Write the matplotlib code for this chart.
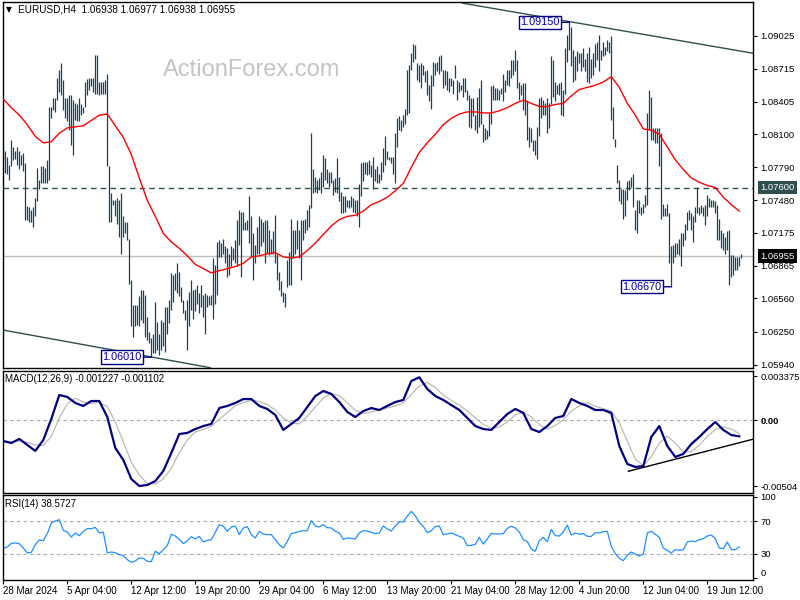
import numpy as np
import pandas as pd
import matplotlib
matplotlib.use("Agg")
import matplotlib.pyplot as plt
import matplotlib.transforms as mtrans

plt.rcParams['font.family'] = ['Liberation Sans', 'DejaVu Sans']

symbol = "EURUSD,H4"
last_ohlc = [1.06938, 1.06977, 1.06938, 1.06955]

# H4 bars (high / low)
highs = [
    1.0798, 1.0794, 1.0789, 1.0781, 1.0805, 1.0798, 1.0794, 1.0798, 1.0794, 1.0791,
    1.0792, 1.0783, 1.0743, 1.0742, 1.0739, 1.0742, 1.0750, 1.0778, 1.0767, 1.0780,
    1.0780, 1.0778, 1.0786, 1.0836, 1.0836, 1.0844, 1.0844, 1.0863, 1.0870, 1.0877,
    1.0861, 1.0844, 1.0844, 1.0847, 1.0847, 1.0842, 1.0839, 1.0838, 1.0844, 1.0838,
    1.0836, 1.0859, 1.0862, 1.0863, 1.0863, 1.0863, 1.0884, 1.0884, 1.0859, 1.0859,
    1.0859, 1.0861, 1.0867, 1.0780, 1.0755, 1.0748, 1.0748, 1.0750, 1.0748, 1.0755,
    1.0733, 1.0728, 1.0728, 1.0712, 1.0673, 1.0650, 1.0650, 1.0650, 1.0658, 1.0664,
    1.0664, 1.0659, 1.0639, 1.0625, 1.0619, 1.0623, 1.0653, 1.0634, 1.0623, 1.0636,
    1.0634, 1.0648, 1.0648, 1.0655, 1.0680, 1.0678, 1.0680, 1.0689, 1.0681, 1.0667,
    1.0655, 1.0645, 1.0655, 1.0662,
    1.0673, 1.0664, 1.0665, 1.0669, 1.0661, 1.0669, 1.0659, 1.0661, 1.0659, 1.0658,
    1.0659, 1.0694, 1.0687, 1.0709, 1.0711, 1.0708, 1.0712, 1.0705, 1.0703, 1.0698,
    1.0705, 1.0703, 1.0711, 1.0730, 1.0739, 1.0737, 1.0737, 1.0728, 1.0730, 1.0752,
    1.0733, 1.0717, 1.0706, 1.0723, 1.0733, 1.0731, 1.0728, 1.0730, 1.0730, 1.0720,
    1.0712, 1.0719, 1.0734, 1.0698, 1.0681, 1.0672, 1.0662, 1.0661, 1.0692, 1.0700,
    1.0731, 1.0720, 1.0720, 1.0730, 1.0720, 1.0730, 1.0730, 1.0731, 1.0739, 1.0744,
    1.0811, 1.0777, 1.0770, 1.0767, 1.0769, 1.0775, 1.0791, 1.0788, 1.0777, 1.0775,
    1.0775, 1.0767, 1.0769, 1.0788, 1.0770, 1.0756, 1.0752, 1.0752, 1.0748, 1.0748,
    1.0752, 1.0750, 1.0748, 1.0748, 1.0763, 1.0783, 1.0784, 1.0784, 1.0784, 1.0786,
    1.0781, 1.0789,
    1.0777, 1.0780, 1.0773, 1.0784, 1.0797, 1.0808, 1.0794, 1.0789, 1.0789, 1.0789,
    1.0811, 1.0825, 1.0827, 1.0823, 1.0828, 1.0834, 1.0870, 1.0875, 1.0886, 1.0895,
    1.0894, 1.0877, 1.0875, 1.0877, 1.0875, 1.0869, 1.0870, 1.0856, 1.0866, 1.0878,
    1.0877, 1.0878, 1.0883, 1.0884, 1.0870, 1.0870, 1.0869, 1.0863, 1.0863, 1.0861,
    1.0875, 1.0861, 1.0859, 1.0856, 1.0863, 1.0863, 1.0852, 1.0847, 1.0844, 1.0844,
    1.0828, 1.0845, 1.0853, 1.0861, 1.0820, 1.0816, 1.0814, 1.0830, 1.0855, 1.0856,
    1.0853, 1.0853, 1.0852, 1.0853, 1.0867, 1.0861, 1.0870, 1.0870, 1.0880, 1.0880,
    1.0889, 1.0880, 1.0859, 1.0856, 1.0858, 1.0858, 1.0842, 1.0817, 1.0816, 1.0805,
    1.0805, 1.0817, 1.0844, 1.0845, 1.0842, 1.0839, 1.0844, 1.0839, 1.0883, 1.0880,
    1.0859, 1.0856, 1.0858,
    1.0859, 1.0852, 1.0891, 1.0903, 1.0915, 1.0911, 1.0889, 1.0883, 1.0888, 1.0886,
    1.0886, 1.0891, 1.0881, 1.0886, 1.0892, 1.0881, 1.0886, 1.0895, 1.0897, 1.0903,
    1.0889, 1.0897, 1.0892, 1.0898, 1.0897, 1.0902, 1.0836, 1.0806, 1.0781, 1.0767,
    1.0759, 1.0759, 1.0758, 1.0766, 1.0767, 1.0770, 1.0773, 1.0739, 1.0748, 1.0748,
    1.0742, 1.0745, 1.0753, 1.0830, 1.0852, 1.0845, 1.0816, 1.0816, 1.0816, 1.0816,
    1.0811, 1.0745, 1.0741, 1.0745, 1.0736, 1.0705, 1.0706, 1.0708, 1.0708, 1.0712,
    1.0717, 1.0717, 1.0726, 1.0737, 1.0739, 1.0736, 1.0733, 1.0742, 1.0761, 1.0742,
    1.0744, 1.0742, 1.0744, 1.0753, 1.0750, 1.0748, 1.0748, 1.0747, 1.0744, 1.0731,
    1.0720, 1.0717, 1.0714, 1.0719, 1.0720, 1.0697, 1.0697, 1.0695, 1.0695, 1.0695,
    1.0698,
]
lows = [
    1.0783, 1.0774, 1.0773, 1.0767, 1.0780, 1.0786, 1.0787, 1.0781, 1.0777, 1.0781,
    1.0776, 1.0730, 1.0730, 1.0728, 1.0728, 1.0723, 1.0733, 1.0747, 1.0759, 1.0764,
    1.0764, 1.0764, 1.0764, 1.0767, 1.0825, 1.0833, 1.0831, 1.0842, 1.0850, 1.0847,
    1.0833, 1.0825, 1.0822, 1.0814, 1.0800, 1.0791, 1.0823, 1.0822, 1.0822, 1.0828,
    1.0830, 1.0836, 1.0847, 1.0852, 1.0855, 1.0850, 1.0848, 1.0848, 1.0847, 1.0848,
    1.0848, 1.0848, 1.0780, 1.0728, 1.0728, 1.0744, 1.0733, 1.0726, 1.0714, 1.0698,
    1.0714, 1.0717, 1.0711, 1.0670, 1.0630, 1.0620, 1.0630, 1.0631, 1.0630, 1.0636,
    1.0633, 1.0620, 1.0617, 1.0614, 1.0601, 1.0605, 1.0605, 1.0608, 1.0603, 1.0608,
    1.0611, 1.0606, 1.0623, 1.0633, 1.0645, 1.0653, 1.0664, 1.0661, 1.0658, 1.0653,
    1.0642, 1.0636, 1.0608, 1.0630,
    1.0645, 1.0637, 1.0644, 1.0651, 1.0642, 1.0648, 1.0639, 1.0623, 1.0648, 1.0650,
    1.0650, 1.0637, 1.0651, 1.0659, 1.0695, 1.0695, 1.0698, 1.0689, 1.0676, 1.0678,
    1.0686, 1.0692, 1.0689, 1.0686, 1.0706, 1.0676, 1.0720, 1.0720, 1.0720, 1.0708,
    1.0695, 1.0673, 1.0689, 1.0698, 1.0698, 1.0705, 1.0709, 1.0689, 1.0698, 1.0697,
    1.0698, 1.0698, 1.0689, 1.0673, 1.0664, 1.0658, 1.0653, 1.0648, 1.0667, 1.0669,
    1.0669, 1.0694, 1.0698, 1.0702, 1.0694, 1.0673, 1.0711, 1.0717, 1.0720, 1.0723,
    1.0741, 1.0755, 1.0756, 1.0755, 1.0758, 1.0755, 1.0761, 1.0767, 1.0764, 1.0761,
    1.0764, 1.0753, 1.0756, 1.0755, 1.0747, 1.0736, 1.0736, 1.0737, 1.0742, 1.0741,
    1.0742, 1.0737, 1.0736, 1.0733, 1.0723, 1.0752, 1.0766, 1.0773, 1.0772, 1.0773,
    1.0770, 1.0759,
    1.0766, 1.0764, 1.0764, 1.0767, 1.0775, 1.0781, 1.0787, 1.0786, 1.0783, 1.0773,
    1.0764, 1.0798, 1.0814, 1.0813, 1.0817, 1.0820, 1.0828, 1.0830, 1.0870, 1.0878,
    1.0881, 1.0861, 1.0859, 1.0853, 1.0866, 1.0859, 1.0847, 1.0841, 1.0834, 1.0855,
    1.0866, 1.0869, 1.0867, 1.0869, 1.0853, 1.0856, 1.0852, 1.0850, 1.0855, 1.0848,
    1.0863, 1.0842, 1.0850, 1.0852, 1.0845, 1.0850, 1.0842, 1.0817, 1.0816, 1.0827,
    1.0814, 1.0811, 1.0817, 1.0820, 1.0803, 1.0805, 1.0806, 1.0808, 1.0820, 1.0842,
    1.0842, 1.0842, 1.0842, 1.0848, 1.0841, 1.0850, 1.0856, 1.0855, 1.0863, 1.0866,
    1.0869, 1.0853, 1.0842, 1.0847, 1.0833, 1.0828, 1.0805, 1.0798, 1.0803, 1.0794,
    1.0791, 1.0787, 1.0808, 1.0825, 1.0828, 1.0828, 1.0811, 1.0816, 1.0838, 1.0845,
    1.0841, 1.0848, 1.0847,
    1.0828, 1.0827, 1.0848, 1.0878, 1.0889, 1.0874, 1.0859, 1.0861, 1.0869, 1.0877,
    1.0869, 1.0873, 1.0869, 1.0859, 1.0858, 1.0863, 1.0866, 1.0873, 1.0880, 1.0869,
    1.0880, 1.0883, 1.0884, 1.0888, 1.0886, 1.0823, 1.0806, 1.0798, 1.0764, 1.0747,
    1.0745, 1.0731, 1.0733, 1.0748, 1.0758, 1.0761, 1.0742, 1.0720, 1.0717, 1.0736,
    1.0734, 1.0736, 1.0742, 1.0744, 1.0814, 1.0805, 1.0805, 1.0802, 1.0802, 1.0780,
    1.0731, 1.0733, 1.0733, 1.0733, 1.0689, 1.0667, 1.0689, 1.0695, 1.0698, 1.0697,
    1.0686, 1.0705, 1.0711, 1.0720, 1.0730, 1.0720, 1.0709, 1.0728, 1.0736, 1.0734,
    1.0736, 1.0733, 1.0725, 1.0733, 1.0742, 1.0742, 1.0742, 1.0736, 1.0711, 1.0711,
    1.0703, 1.0701, 1.0698, 1.0701, 1.0669, 1.0676, 1.0678, 1.0683, 1.0683, 1.0686,
    1.0694,
]

# red moving average, one reading every 4 bars
ma_step = 4
ma_line = [
    1.0843, 1.0835, 1.0828, 1.0819, 1.0808, 1.0802, 1.0803, 1.0811, 1.0816, 1.0817,
    1.0818, 1.0823, 1.0828, 1.0829, 1.0818, 1.0807, 1.0791, 1.0769, 1.0748, 1.0733,
    1.0717, 1.0709, 1.0703, 1.0696, 1.0688, 1.0684, 1.0680, 1.0682, 1.0684, 1.0686,
    1.0689, 1.0695, 1.0696, 1.0698, 1.0699, 1.0695, 1.0694, 1.0695, 1.0701, 1.0708,
    1.0716, 1.0724, 1.0730, 1.0733, 1.0734, 1.0738, 1.0744, 1.0747, 1.0751, 1.0757,
    1.0764, 1.0779, 1.0793, 1.0802, 1.0810, 1.0819, 1.0825, 1.0829, 1.0831, 1.0831,
    1.0830, 1.0830, 1.0832, 1.0835, 1.0839, 1.0842, 1.0839, 1.0836, 1.0836, 1.0838,
    1.0839, 1.0846, 1.0852, 1.0854, 1.0856, 1.0859, 1.0864, 1.0854, 1.0839, 1.0828,
    1.0815, 1.0814, 1.0810, 1.0798, 1.0786, 1.0777, 1.0769, 1.0765, 1.0762, 1.0760,
    1.0751, 1.0744, 1.0738,
]

# MACD main line, one reading every 4 bars
macd_step = 4
macd_main = [
    -0.00159, -0.00174, -0.00143, -0.00189, -0.00235, -0.00151, 0.00010, 0.00194, 0.00179, 0.00133,
    0.00110, 0.00148, 0.00148, 0.00025, -0.00212, -0.00304, -0.00450, -0.00504, -0.00496, -0.00466,
    -0.00389, -0.00251, -0.00105, -0.00097, -0.00067, -0.00044, -0.00028, 0.00094, 0.00110, 0.00133,
    0.00163, 0.00163, 0.00110, 0.00087, 0.00041, -0.00074, -0.00028, 0.00018, 0.00102, 0.00186,
    0.00225, 0.00202, 0.00140, 0.00064, 0.00025, 0.00071, 0.00094, 0.00079, 0.00110, 0.00140,
    0.00156, 0.00301, 0.00330, 0.00240, 0.00186, 0.00156, 0.00117, 0.00079, 0.00018, -0.00044,
    -0.00067, -0.00074, -0.00013, 0.00048, 0.00087, 0.00056, -0.00067, -0.00090, -0.00044, 0.00018,
    0.00033, 0.00163, 0.00133, 0.00110, 0.00079, 0.00079, 0.00056, -0.00197, -0.00335, -0.00358,
    -0.00351, -0.00128, -0.00044, -0.00197, -0.00281, -0.00258, -0.00182, -0.00128, -0.00067, -0.00013,
    -0.00074, -0.00113, -0.00123,
]
macd_last = -0.001227
signal_last = -0.001102

# RSI(14), one reading every 2 bars
rsi_step = 2
rsi_line = [
    36.9, 38.6, 43.0, 43.5, 42.6, 37.3, 31.2, 32.0, 41.4, 47.1,
    46.3, 54.9, 67.9, 70.4, 72.0, 59.0, 56.9, 50.8, 55.7, 52.4,
    57.7, 61.0, 61.0, 62.6, 55.7, 56.9, 31.2, 32.4, 31.6, 29.2,
    27.9, 23.1, 19.8, 21.4, 25.1, 24.7, 21.0, 20.6, 33.3, 30.4,
    35.3, 40.2, 54.1, 52.0, 47.9, 42.6, 46.3, 51.2, 48.3, 51.6,
    44.7, 46.7, 47.5, 56.5, 65.9, 63.9, 57.7, 63.0, 64.3, 53.7,
    61.8, 63.4, 53.7, 49.6, 57.7, 54.5, 53.7, 53.7, 47.5, 41.4,
    37.3, 45.5, 54.9, 56.1, 57.7, 58.5, 58.5, 70.8, 64.3, 63.0,
    65.9, 62.2, 61.8, 57.7, 55.7, 47.9, 49.6, 49.2, 48.3, 55.7,
    58.5, 58.1, 56.5, 54.9, 55.7, 64.3, 60.6, 58.1, 64.3, 69.2,
    69.2, 76.5, 82.2, 76.9, 68.3, 63.9, 56.1, 58.5, 63.9, 64.3,
    53.7, 54.5, 55.7, 53.7, 51.6, 49.6, 40.2, 40.6, 41.8, 50.4,
    42.2, 48.3, 55.3, 54.5, 54.5, 54.9, 61.4, 63.9, 61.8, 56.9,
    47.5, 45.1, 36.1, 33.3, 46.3, 50.4, 45.1, 60.2, 52.4, 52.0,
    56.9, 65.5, 53.2, 55.7, 54.1, 54.9, 51.6, 51.6, 56.1, 55.7,
    57.3, 57.7, 39.4, 30.4, 24.7, 21.8, 28.4, 32.4, 30.0, 27.5,
    30.0, 55.7, 57.7, 54.1, 50.4, 37.3, 34.5, 31.2, 35.3, 34.5,
    35.3, 44.7, 45.9, 45.1, 47.5, 48.8, 52.0, 53.2, 48.8, 37.3,
    36.5, 44.7, 35.3, 35.3, 38.6,
]
rsi_last = 38.5727

price_ticks = [1.09025, 1.08715, 1.08405, 1.08100, 1.07790, 1.07480,
               1.07175, 1.06865, 1.06560, 1.06250, 1.05940]
level_line = 1.07600
current_price = 1.06955
macd_ticks = [0.003375, 0.0, -0.00504]
macd_tick_labels = ["0.003375", "0.00", "-0.00504"]
rsi_ticks = [100, 70, 30, 0]
rsi_levels = [30, 70]

date_pos = [0, 32, 64, 96, 128, 160, 192, 224, 256, 288, 320, 352]
date_labels = ["28 Mar 2024", "5 Apr 04:00", "12 Apr 12:00", "19 Apr 20:00",
               "29 Apr 04:00", "6 May 12:00", "13 May 20:00", "21 May 04:00",
               "28 May 12:00", "4 Jun 20:00", "12 Jun 04:00", "19 Jun 12:00"]

# drawn trendlines (bar index, value)
upper_trend = ([229.9, 374.9], [1.09329, 1.08860])
lower_trend = ([-0.5, 103.4], [1.06265, 1.05911])
macd_trend = ([312.5, 375.9], [-0.00391, -0.00141])

bar_color = "#17415F"

fig = plt.figure(figsize=(8, 6), dpi=100)


def box(x0, y0, x1, y1):
    return [x0 / 800, 1 - y1 / 600, (x1 - x0) / 800, (y1 - y0) / 600]


ax_p = fig.add_axes(box(2.5, 2.3, 753, 368.3))
ax_m = fig.add_axes(box(2.5, 370.7, 753, 493))
ax_r = fig.add_axes(box(2.5, 494.7, 753, 579.7))

for a in (ax_p, ax_m, ax_r):
    a.set_xlim(-0.4, 374.85)
    a.yaxis.tick_right()
    a.tick_params(axis='y', direction='out', length=3, pad=2.5, labelsize=6.8, colors='black')
    for s in a.spines.values():
        s.set_linewidth(1.0)
        s.set_color('black')

# ---- price panel
x = np.arange(len(highs))
ax_p.axhline(current_price, color='#C0C0C0', lw=1, zorder=1)
ax_p.axhline(level_line, color='#2F4F4F', lw=1, ls=(0, (4, 3)), zorder=1)
ax_p.vlines(x, lows, highs, color=bar_color, lw=0.9, zorder=2)
ax_p.plot(np.arange(len(ma_line)) * ma_step, ma_line, color='#FF0000', lw=1.0, zorder=3)
ax_p.plot(upper_trend[0], upper_trend[1], color='#2F4F4F', lw=1)
ax_p.plot(lower_trend[0], lower_trend[1], color='#2F4F4F', lw=1)
ax_p.set_ylim(1.05905, 1.09338)
ax_p.set_xticks([])
ax_p.set_yticks(price_ticks)
ax_p.set_yticklabels([f"{v:.5f}" for v in price_ticks])

i_hi = int(np.argmax(highs))
i_lo = int(np.argmin(lows))
i_lo2 = 300 + int(np.argmin(lows[300:]))
for i, v in [(i_hi, highs[i_hi]), (i_lo, lows[i_lo]), (i_lo2, lows[i_lo2])]:
    ax_p.annotate(f"{v:.5f}", xy=(i, v), xytext=(-7, 0), textcoords='offset points',
                  ha='right', va='center', fontsize=7.8, color='#0000A8',
                  bbox=dict(boxstyle='square,pad=0.15', fc='white', ec='#000080', lw=1),
                  arrowprops=dict(arrowstyle='-', color='#000080', lw=1,
                                  shrinkA=0, shrinkB=0))

tr = mtrans.blended_transform_factory(ax_p.transAxes, ax_p.transData)
ax_p.text(1.0093, level_line, f"{level_line:.5f}", transform=tr, ha='left', va='center',
          fontsize=6.8, color='white', clip_on=False,
          bbox=dict(boxstyle='square,pad=0.25', fc='#2F4F4F', ec='none'))
ax_p.text(1.0093, current_price, f"{current_price:.5f}", transform=tr, ha='left', va='center',
          fontsize=6.8, color='white', clip_on=False,
          bbox=dict(boxstyle='square,pad=0.25', fc='black', ec='none'))

ax_p.text(0.2139, 0.815, "ActionForex.com", transform=ax_p.transAxes, ha='left', va='center',
          fontsize=17, color='#C4C4C4')
ax_p.text(0.0047, 0.979, "\u25bc", transform=ax_p.transAxes, ha='left', va='center',
          fontsize=5.5, color='black', family=['DejaVu Sans'])
ax_p.text(0.0207, 0.979, symbol + "  " + " ".join(f"{v:.5f}" for v in last_ohlc),
          transform=ax_p.transAxes, ha='left', va='center', fontsize=7.2, color='black')

# ---- MACD panel
xm = np.arange(len(macd_main)) * macd_step
signal = pd.Series(macd_main).rolling(3, min_periods=1).mean()
ax_m.axhline(0, color='#A9A9A9', lw=0.8, ls=(0, (3, 3)))
ax_m.plot(xm, signal, color='#B4B4B4', lw=0.8, zorder=2)
ax_m.plot(xm, macd_main, color='#000080', lw=1.6, zorder=3)
ax_m.plot(macd_trend[0], macd_trend[1], color='black', lw=1, zorder=4)
ax_m.set_ylim(-0.005576, 0.003804)
ax_m.set_xticks([])
ax_m.set_yticks(macd_ticks)
ax_m.set_yticklabels(macd_tick_labels)
ax_m.get_yticklabels()[1].set_fontweight('bold')
ax_m.text(0.0033, 0.932, f"MACD(12,26,9) {macd_last:.6f} {signal_last:.6f}",
          transform=ax_m.transAxes, ha='left', va='center', fontsize=7)

# ---- RSI panel
xr = np.arange(len(rsi_line)) * rsi_step
for lv in rsi_levels:
    ax_r.axhline(lv, color='#A9A9A9', lw=0.8, ls=(0, (3, 3)))
ax_r.plot(xr, rsi_line, color='#1E90FF', lw=0.9)
ax_r.set_ylim(-1.5, 102.6)
ax_r.set_yticks(rsi_ticks)
ax_r.set_yticklabels([str(t) for t in rsi_ticks])
ax_r.get_yticklabels()[-1].set_va('bottom')
ax_r.text(0.0033, 0.89, f"RSI(14) {rsi_last:.4f}", transform=ax_r.transAxes,
          ha='left', va='center', fontsize=7)
ax_r.set_xticks(date_pos)
ax_r.set_xticklabels(date_labels)
ax_r.tick_params(axis='x', direction='out', length=3, pad=1.5, labelsize=7)
for lab in ax_r.get_xticklabels():
    lab.set_ha('left')

fig.savefig("out.png", dpi=100)
